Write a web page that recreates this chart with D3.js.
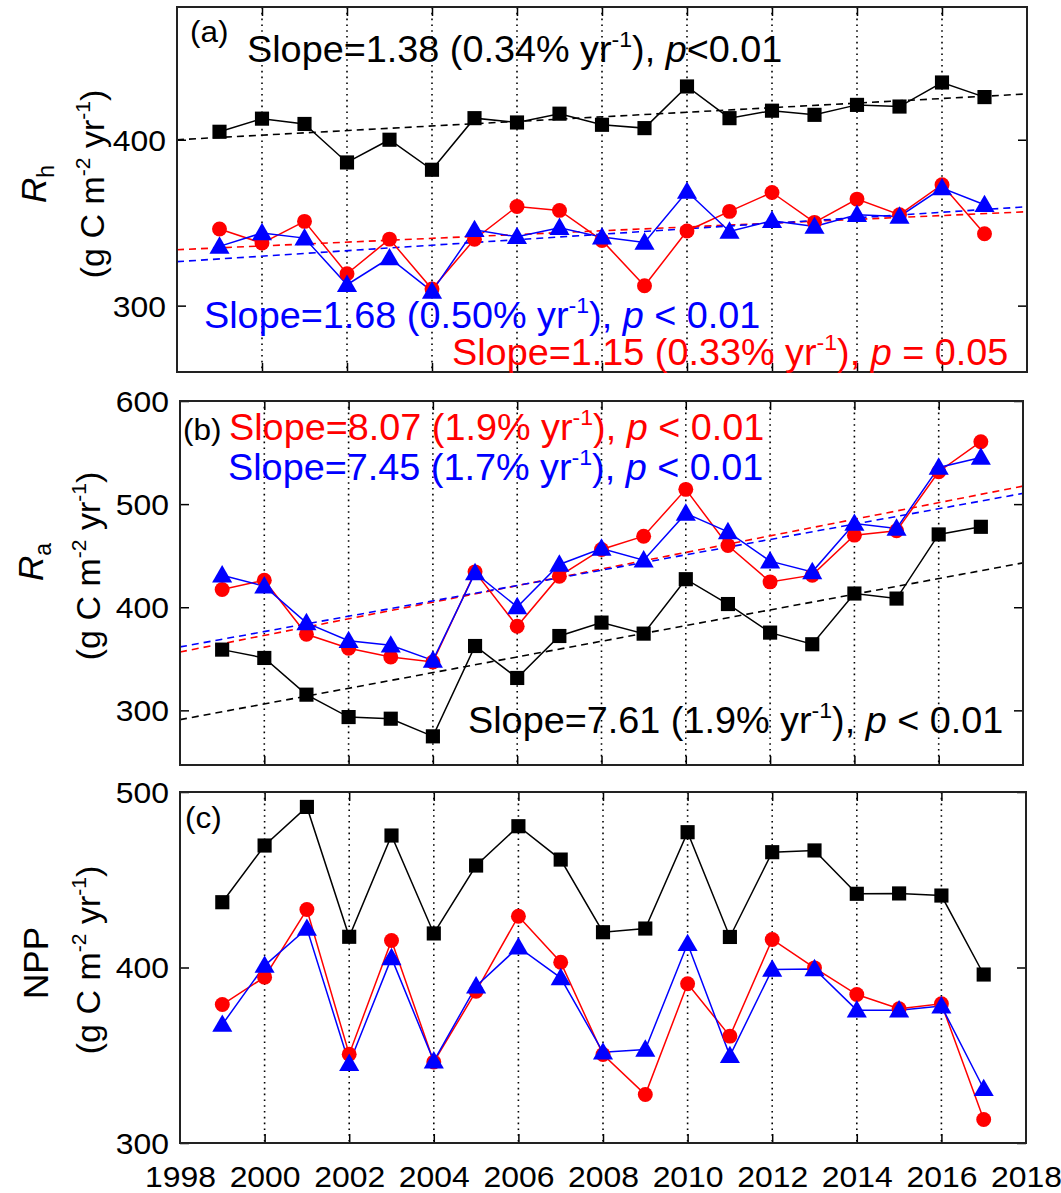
<!DOCTYPE html>
<html>
<head>
<meta charset="utf-8">
<script src="https://cdn.jsdelivr.net/npm/d3@7"></script>
<style>
  html, body { margin: 0; padding: 0; background: #ffffff; }
  svg { display: block; font-family: Arial, "Liberation Sans", sans-serif; }
</style>
</head>
<body>
<svg id="chart" width="1061" height="1193"></svg>
<script>
// ---------------- DATA ----------------
const years = [1999, 2000, 2001, 2002, 2003, 2004, 2005, 2006, 2007, 2008,
               2009, 2010, 2011, 2012, 2013, 2014, 2015, 2016, 2017];
const xTickYears = [1998, 2000, 2002, 2004, 2006, 2008, 2010, 2012, 2014, 2016, 2018];
const gridYears = [2000, 2002, 2004, 2006, 2008, 2010, 2012, 2014, 2016];

// (a) Rh
const rhBlack = [404.8, 412.7, 409.5, 386.3, 400.0, 381.9, 413.0, 410.4, 415.7, 409.0,
                 407.0, 432.1, 413.0, 417.5, 415.0, 421.0, 420.0, 434.5, 425.7];
const rhRed   = [346.2, 337.7, 350.8, 319.2, 340.1, 310.0, 340.0, 359.8, 357.4, 339.3,
                 312.0, 345.0, 356.8, 368.2, 350.2, 364.2, 354.8, 372.9, 343.3];
const rhBlue  = [335.7, 343.8, 340.7, 312.6, 328.7, 308.6, 345.7, 341.5, 347.0, 341.3,
                 338.1, 368.8, 344.7, 351.2, 347.7, 354.8, 353.8, 370.9, 360.8];
const rhTrendBlack = [400.0, 427.6];   // values at 1998 and 2018
const rhTrendRed   = [333.7, 356.6];
const rhTrendBlue  = [326.5, 359.6];

// (b) Ra
const raBlack = [358.9, 350.8, 315.2, 293.5, 291.9, 274.8, 362.4, 331.4, 372.1, 385.1,
                 374.4, 427.2, 403.1, 375.4, 364.1, 413.3, 408.4, 470.6, 478.0];
const raRed   = [417.2, 426.2, 373.8, 360.2, 351.8, 346.9, 434.3, 381.6, 430.1, 456.0,
                 468.9, 514.3, 459.8, 424.6, 431.1, 469.9, 474.1, 531.4, 560.5];
const raBlue  = [431.1, 420.4, 384.8, 367.5, 363.1, 348.5, 433.3, 400.3, 441.5, 457.0,
                 445.6, 491.0, 473.1, 444.7, 434.3, 481.2, 476.4, 535.6, 545.3];
const raTrendBlack = [291.0, 443.0];
const raTrendRed   = [356.6, 517.5];
const raTrendBlue  = [361.5, 510.4];

// (c) NPP
const nppBlack = [437.2, 469.5, 491.5, 417.5, 475.2, 419.4, 458.1, 480.5, 461.5, 420.1,
                  422.2, 477.1, 417.4, 465.7, 466.7, 442.0, 442.2, 441.0, 396.0];
const nppRed   = [378.9, 394.5, 433.0, 350.6, 415.4, 346.1, 386.5, 429.2, 403.0, 350.4,
                  327.6, 390.7, 360.9, 416.0, 399.8, 384.6, 376.5, 379.3, 313.4];
const nppBlue  = [367.5, 401.1, 422.2, 345.2, 405.5, 346.6, 389.4, 411.6, 394.1, 351.7,
                  353.3, 413.5, 349.7, 398.9, 399.2, 375.7, 375.7, 378.0, 330.9];

const rhTicks = [300, 400];
const raTicks = [300, 400, 500, 600];
const nppTicks = [300, 400, 500];

// annotation texts: [text, style] style: n = normal, s = superscript, i = italic
const rhSlopeBlack = [["Slope=1.38 (0.34% yr", "n"], ["-1", "s"], ["), ", "n"], ["p", "i"], ["<0.01", "n"]];
const rhSlopeBlue  = [["Slope=1.68 (0.50% yr", "n"], ["-1", "s"], ["), ", "n"], ["p", "i"], [" < 0.01", "n"]];
const rhSlopeRed   = [["Slope=1.15 (0.33% yr", "n"], ["-1", "s"], ["), ", "n"], ["p", "i"], [" = 0.05", "n"]];
const raSlopeRed   = [["Slope=8.07 (1.9% yr", "n"], ["-1", "s"], ["), ", "n"], ["p", "i"], [" < 0.01", "n"]];
const raSlopeBlue  = [["Slope=7.45 (1.7% yr", "n"], ["-1", "s"], ["), ", "n"], ["p", "i"], [" < 0.01", "n"]];
const raSlopeBlack = [["Slope=7.61 (1.9% yr", "n"], ["-1", "s"], ["), ", "n"], ["p", "i"], [" < 0.01", "n"]];

const colors = { black: "#000000", red: "#ff0000", blue: "#0000ff" };

// ---------------- LAYOUT ----------------
const panels = [
  { tag: "(a)", x0: 177, x1: 1027, y0: 7, y1: 372, dom: [260, 480], ticks: rhTicks,
    series: [rhBlack, rhRed, rhBlue], trends: [rhTrendBlack, rhTrendRed, rhTrendBlue],
    ylab: { main: "R", sub: "h", italic: true, cy: 184, bx: 46 }, unitX: 104, unitCy: 184,
    notes: [ { t: rhSlopeBlack, c: "black", x: 247, y: 62 },
             { t: rhSlopeBlue,  c: "blue",  x: 204, y: 328 },
             { t: rhSlopeRed,   c: "red",   x: 452, y: 365 } ],
    tagPos: [190, 42] },
  { tag: "(b)", x0: 180, x1: 1023, y0: 401, y1: 765, dom: [247, 600], ticks: raTicks,
    series: [raBlack, raRed, raBlue], trends: [raTrendBlack, raTrendRed, raTrendBlue],
    ylab: { main: "R", sub: "a", italic: true, cy: 562, bx: 43 }, unitX: 100, unitCy: 566,
    notes: [ { t: raSlopeRed,   c: "red",   x: 229, y: 440 },
             { t: raSlopeBlue,  c: "blue",  x: 228, y: 480 },
             { t: raSlopeBlack, c: "black", x: 468, y: 733 } ],
    tagPos: [183, 440] },
  { tag: "(c)", x0: 180, x1: 1026, y0: 792, y1: 1143, dom: [300, 500], ticks: nppTicks,
    series: [nppBlack, nppRed, nppBlue], trends: null,
    ylab: { main: "NPP", sub: "", italic: false, cy: 963, bx: 48 }, unitX: 100, unitCy: 960,
    notes: [], tagPos: [185, 828], xlabels: true }
];

const svg = d3.select("#chart");
const seriesColors = [colors.black, colors.red, colors.blue];
const symbolTypes = [d3.symbolSquare, d3.symbolCircle, d3.symbolTriangle];
const symbolSizes = [200, 175, 175];
const TXT_SX = 1.05;   // horizontal stretch of horizontal text
const TICK_SX = 1.1;

function addRich(sel, parts, fontSize) {
  const supSize = Math.round(fontSize * 0.62);
  const rise = Math.round(fontSize * 0.42);
  parts.forEach((p, i) => {
    const ts = sel.append("tspan").text(p[0]);
    if (p[1] === "s") {
      ts.attr("font-size", supSize).attr("dy", -rise);
    } else {
      ts.attr("font-size", fontSize);
      if (i > 0 && parts[i - 1][1] === "s") ts.attr("dy", rise);
      if (p[1] === "i") ts.attr("font-style", "italic");
    }
  });
}

panels.forEach(P => {
  const x = d3.scaleLinear().domain([1998, 2018]).range([P.x0, P.x1]);
  const y = d3.scaleLinear().domain(P.dom).range([P.y1, P.y0]);
  const g = svg.append("g");

  const clipId = "clip" + P.tag.replace(/[()]/g, "");
  svg.append("clipPath").attr("id", clipId).append("rect")
    .attr("x", P.x0).attr("y", P.y0).attr("width", P.x1 - P.x0).attr("height", P.y1 - P.y0);

  // dotted vertical grid
  g.selectAll(".grid").data(gridYears).enter().append("line")
    .attr("x1", d => x(d)).attr("x2", d => x(d))
    .attr("y1", P.y0).attr("y2", P.y1)
    .attr("stroke", "#000").attr("stroke-width", 1.6).attr("stroke-dasharray", "1.6,4.2");

  // axes with inward ticks
  const axB = d3.axisBottom(x).tickValues(gridYears).tickSize(-9).tickFormat("");
  const axT = d3.axisTop(x).tickValues(gridYears).tickSize(-9).tickFormat("");
  const axL = d3.axisLeft(y).tickValues(P.ticks).tickSize(-9).tickFormat(d3.format("d"));
  const axR = d3.axisRight(y).tickValues(P.ticks).tickSize(-9).tickFormat("");
  const styleAxis = s => {
    s.select(".domain").remove();
    s.selectAll(".tick line").attr("stroke", "#000").attr("stroke-width", 1.5);
  };
  g.append("g").attr("transform", `translate(0,${P.y1})`).call(axB).call(styleAxis);
  g.append("g").attr("transform", `translate(0,${P.y0})`).call(axT).call(styleAxis);
  const gl = g.append("g").attr("transform", `translate(${P.x0},0)`).call(axL).call(styleAxis);
  gl.selectAll(".tick text").attr("font-size", 29).attr("fill", "#000")
    .attr("font-family", "Arial, 'Liberation Sans', sans-serif")
    .attr("x", -10).attr("dy", "0.36em")
    .attr("transform", `scale(${TICK_SX},1)`);
  g.append("g").attr("transform", `translate(${P.x1},0)`).call(axR).call(styleAxis);

  if (P.xlabels) {
    const axX = d3.axisBottom(x).tickValues(xTickYears).tickSize(0).tickPadding(0).tickFormat(d3.format("d"));
    const gx = g.append("g").attr("transform", `translate(0,${P.y1})`).call(axX);
    gx.select(".domain").remove();
    gx.selectAll(".tick text").attr("font-size", 29).attr("fill", "#000")
      .attr("font-family", "Arial, 'Liberation Sans', sans-serif")
      .attr("y", 44).attr("dy", 0)
      .attr("transform", `scale(${TICK_SX},1)`);
  }

  // trend lines
  if (P.trends) {
    P.trends.forEach((t, i) => {
      g.append("line")
        .attr("clip-path", `url(#${clipId})`)
        .attr("x1", x(1998)).attr("y1", y(t[0]))
        .attr("x2", x(2018)).attr("y2", y(t[1]))
        .attr("stroke", seriesColors[i]).attr("stroke-width", 1.6)
        .attr("stroke-dasharray", "7,5");
    });
  }

  // series
  const line = d3.line().x((d, i) => x(years[i])).y(d => y(d));
  P.series.forEach((s, i) => {
    g.append("path").datum(s).attr("d", line)
      .attr("fill", "none").attr("stroke", seriesColors[i]).attr("stroke-width", 1.5);
  });
  P.series.forEach((s, i) => {
    const sym = d3.symbol().type(symbolTypes[i]).size(symbolSizes[i]);
    g.selectAll(null).data(s).enter().append("path")
      .attr("d", sym)
      .attr("transform", (d, j) => `translate(${x(years[j])},${y(d) + (i === 2 ? 1.5 : 0)})`)
      .attr("fill", seriesColors[i]);
  });

  // frame
  g.append("rect").attr("x", P.x0).attr("y", P.y0)
    .attr("width", P.x1 - P.x0).attr("height", P.y1 - P.y0)
    .attr("fill", "none").attr("stroke", "#222").attr("stroke-width", 2);

  // panel tag
  g.append("text")
    .attr("transform", `translate(${P.tagPos[0]},${P.tagPos[1]}) scale(${TXT_SX},1)`)
    .attr("font-size", 30).attr("fill", "#000").text(P.tag);

  // slope notes
  P.notes.forEach(n => {
    const t = g.append("text")
      .attr("transform", `translate(${n.x},${n.y}) scale(${TXT_SX},1)`)
      .attr("fill", colors[n.c]);
    addRich(t, n.t, 36);
  });

  // y label
  const yl = g.append("text")
    .attr("transform", `translate(${P.ylab.bx},${P.ylab.cy}) rotate(-90)`)
    .attr("text-anchor", "middle").attr("font-size", 35).attr("fill", "#000");
  const m = yl.append("tspan").text(P.ylab.main);
  if (P.ylab.italic) m.attr("font-style", "italic");
  if (P.ylab.sub) yl.append("tspan").text(P.ylab.sub).attr("font-size", 23).attr("dy", 8);

  const ul = g.append("text")
    .attr("transform", `translate(${P.unitX},${P.unitCy}) rotate(-90)`)
    .attr("text-anchor", "middle").attr("fill", "#000");
  addRich(ul, [["(g C m", "n"], ["-2", "s"], [" yr", "n"], ["-1", "s"], [")", "n"]], 34);
});
</script>
</body>
</html>
